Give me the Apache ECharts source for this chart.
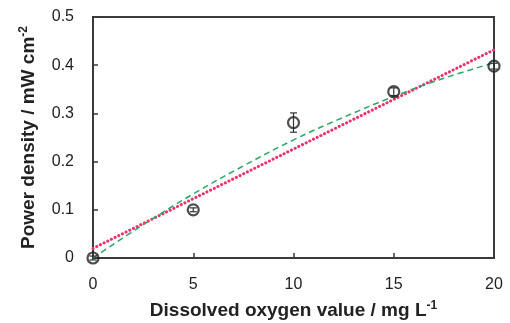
<!DOCTYPE html>
<html>
<head>
<meta charset="utf-8">
<script src="https://cdn.jsdelivr.net/npm/echarts@6/dist/echarts.min.js"></script>
<style>
  html, body { margin: 0; padding: 0; background: #fff; }
  #chart { width: 510px; height: 323px; }
</style>
</head>
<body>
<div id="chart"></div>
<script>
// measured points (x = dissolved oxygen, y = power density, err = +/-)
var oxygen = [0, 5, 10, 15, 20];
var power = [0, 0.10, 0.281, 0.345, 0.398];
var powerErr = [0.004, 0.004, 0.02, 0.008, 0.006];

// green dashed curve
var curveX = [0, 2.5, 5, 7.5, 10, 12.5, 15, 17.5, 20];
var curveY = [0, 0.069, 0.133, 0.191, 0.245, 0.292, 0.335, 0.373, 0.405];

// pink dotted linear fit
var fitX = [0, 20];
var fitY = [0.02, 0.432];

var xTicks = [0, 5, 10, 15, 20];
var yTicks = [0, 0.1, 0.2, 0.3, 0.4, 0.5];

function pairs(xs, ys) {
	return xs.map(function(x, i) { return [x, ys[i]]; });
}

var axisColor = '#3a3a3a';
var textColor = '#222';
var titleRich = {
	t: { fontFamily: 'Liberation Sans', fontSize: 19, fontWeight: 'bold', color: textColor },
	s: { fontFamily: 'Liberation Sans', fontSize: 12, fontWeight: 'bold', color: textColor, verticalAlign: 'top', padding: [0, 0, 9, 0] }
};

var option = {
	animation: false,
	grid: {
		left: 93,
		right: 16,
		top: 17,
		bottom: 65,
		containLabel: false,
		outerBoundsMode: 'none',
		show: true,
		borderColor: axisColor,
		borderWidth: 2
	},
	xAxis: {
		type: 'value',
		min: xTicks[0],
		max: xTicks[xTicks.length - 1],
		interval: 5,
		name: '{t|Dissolved oxygen value / mg L}{s|-1}',
		nameLocation: 'middle',
		nameGap: 42,
		nameTextStyle: { rich: titleRich },
		axisLine: { lineStyle: { color: axisColor, width: 2 } },
		axisTick: { inside: true, length: 5, lineStyle: { color: axisColor, width: 1.5 } },
		axisLabel: { fontFamily: 'Liberation Sans', fontSize: 16, color: textColor, margin: 19 },
		splitLine: { show: false }
	},
	yAxis: {
		type: 'value',
		min: yTicks[0],
		max: yTicks[yTicks.length - 1],
		interval: 0.1,
		name: '{t|Power density / mW cm}{s|-2}',
		nameLocation: 'middle',
		nameGap: 54,
		nameTextStyle: { rich: titleRich },
		axisLine: { show: true, lineStyle: { color: axisColor, width: 2 } },
		axisTick: { show: true, inside: true, length: 5, lineStyle: { color: axisColor, width: 1.5 } },
		axisLabel: { fontFamily: 'Liberation Sans', fontSize: 16, color: textColor, margin: 19 },
		splitLine: { show: false }
	},
	series: [
		{
			name: 'fit',
			type: 'line',
			data: pairs(fitX, fitY),
			symbol: 'none',
			lineStyle: { color: '#f0306e', width: 3, type: [0.1, 4], cap: 'round' },
			z: 2
		},
		{
			name: 'curve',
			type: 'line',
			data: pairs(curveX, curveY),
			smooth: 0.4,
			symbol: 'none',
			lineStyle: { color: '#2aa860', width: 1.5, type: [6, 4] },
			z: 3
		},
		{
			name: 'err',
			type: 'custom',
			data: oxygen.map(function(x, i) { return [x, power[i] - powerErr[i], power[i] + powerErr[i]]; }),
			renderItem: function(params, api) {
				var lo = api.coord([api.value(0), api.value(1)]);
				var hi = api.coord([api.value(0), api.value(2)]);
				var w = 3.5;
				var st = { stroke: '#333', lineWidth: 1.2 };
				return {
					type: 'group',
					children: [
						{ type: 'line', shape: { x1: lo[0], y1: lo[1], x2: hi[0], y2: hi[1] }, style: st },
						{ type: 'line', shape: { x1: lo[0] - w, y1: lo[1], x2: lo[0] + w, y2: lo[1] }, style: st },
						{ type: 'line', shape: { x1: hi[0] - w, y1: hi[1], x2: hi[0] + w, y2: hi[1] }, style: st }
					]
				};
			},
			z: 4
		},
		{
			name: 'data',
			type: 'scatter',
			data: pairs(oxygen, power),
			symbol: 'circle',
			symbolSize: 11,
			itemStyle: { color: 'rgba(255,255,255,0)', borderColor: '#222', borderWidth: 2.2 },
			z: 5
		}
	]
};

var chart = echarts.init(document.getElementById('chart'));
chart.setOption(option);
</script>
</body>
</html>
